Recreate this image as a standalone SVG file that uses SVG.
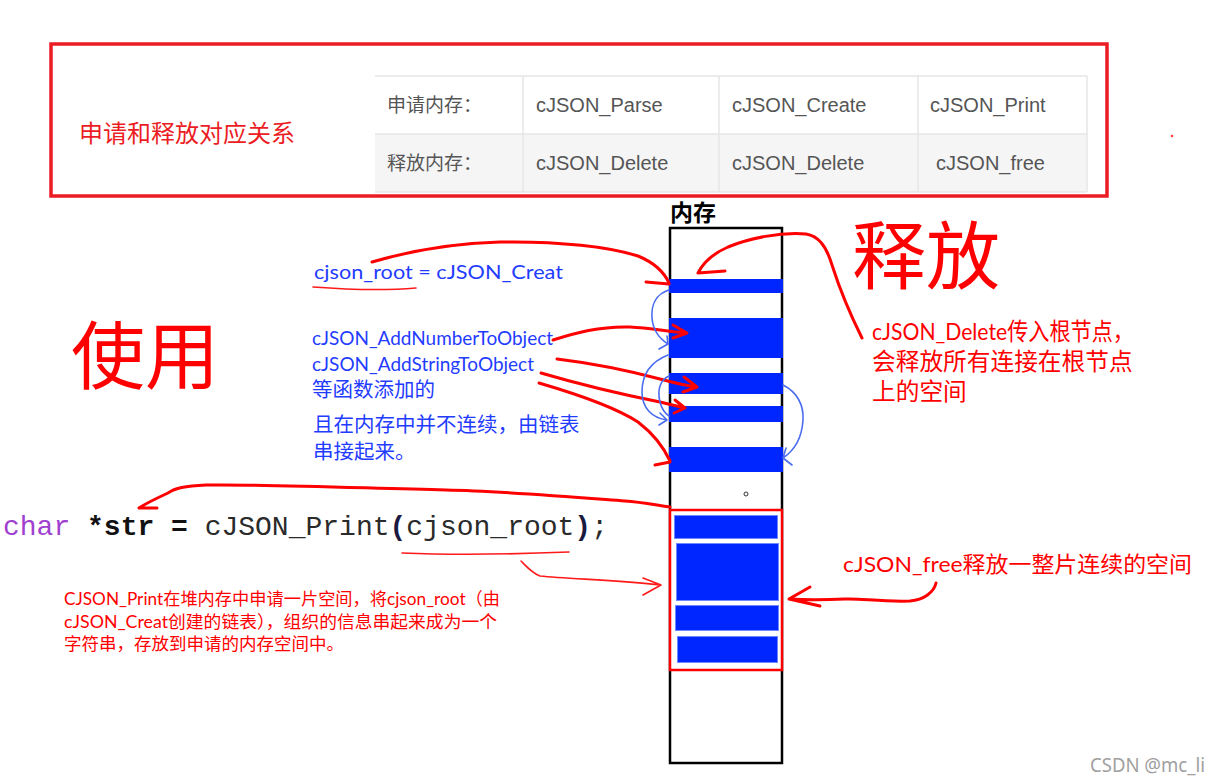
<svg xmlns="http://www.w3.org/2000/svg" width="1220" height="784" viewBox="0 0 1220 784">
<style>
.tbl{font-family:"Liberation Sans","Noto Sans CJK SC",sans-serif;font-size:20px;fill:#555}
.tcn{font-family:"Noto Sans CJK SC",sans-serif;font-size:19px;fill:#555}
.blue{font-family:Lato,"Noto Sans CJK SC",sans-serif;font-size:20px;fill:#1f3cff}
.bcn{font-family:Lato,"Noto Sans CJK SC",sans-serif;font-size:20.5px;fill:#1f3cff}
.red{font-family:Lato,"Noto Sans CJK SC",sans-serif;fill:#ff0000}
.big{font-family:"Noto Sans CJK SC",sans-serif;font-size:74px;fill:#ff0000}
.code{font-family:"Liberation Mono",monospace;font-size:28px;fill:#2a2a2a}
.pen{fill:none;stroke:#ff0000;stroke-width:3;stroke-linecap:round;stroke-linejoin:round}
.thin{fill:none;stroke:#ff1a1a;stroke-width:1.6;stroke-linecap:round;stroke-linejoin:round}
.bpen{fill:none;stroke:#4a6cf0;stroke-width:1.6;stroke-linecap:round;stroke-linejoin:round}
.bar{fill:#0026ff}
.ibar{fill:#0026ff;stroke:#7088ff;stroke-width:1}
.grid{stroke:#e6e6e6;stroke-width:1.5;fill:none}
</style>
<rect width="1220" height="784" fill="#fff"/>

<g id="table-box">
  <rect x="51" y="44" width="1056" height="152" fill="#fff" stroke="#ec1c24" stroke-width="3.5"/>
  <text x="79" y="142" font-family="Noto Sans CJK SC,sans-serif" font-size="24" fill="#ec1c24">申请和释放对应关系</text>
  <rect x="375" y="134" width="712" height="58" fill="#f5f5f5"/>
  <path class="grid" d="M375,76 H1087 M375,134 H1087 M375,192 H1087 M523,76 V192 M719,76 V192 M918,76 V192 M1087,76 V192"/>
  <text class="tcn" x="387" y="112">申请内存：</text>
  <text class="tbl" x="536" y="112">cJSON_Parse</text>
  <text class="tbl" x="732" y="112">cJSON_Create</text>
  <text class="tbl" x="930" y="112">cJSON_Print</text>
  <text class="tcn" x="387" y="170">释放内存：</text>
  <text class="tbl" x="536" y="170">cJSON_Delete</text>
  <text class="tbl" x="732" y="170">cJSON_Delete</text>
  <text class="tbl" x="936" y="170">cJSON_free</text>
</g>
<circle cx="1172" cy="136" r="1.3" fill="#f44"/>

<g id="memory">
  <text x="670" y="221" font-family="Noto Sans CJK SC,sans-serif" font-size="23" font-weight="bold" fill="#000">内存</text>
  <rect x="670" y="228" width="112" height="535" fill="#fff" stroke="#000" stroke-width="2.5"/>
  <rect class="bar" x="669" y="279" width="114" height="14"/>
  <rect class="bar" x="669" y="318" width="114" height="40"/>
  <rect class="bar" x="669" y="373" width="114" height="21"/>
  <rect class="bar" x="669" y="406" width="114" height="16"/>
  <rect class="bar" x="669" y="447" width="114" height="25"/>
  <circle cx="746" cy="494" r="2" fill="none" stroke="#333" stroke-width="1"/>
  <rect x="670" y="510" width="112" height="160" fill="#fff" stroke="#ff0000" stroke-width="2.5"/>
  <rect class="ibar" x="674.5" y="515.5" width="103" height="23"/>
  <rect class="ibar" x="676.5" y="543.5" width="102" height="57"/>
  <rect class="ibar" x="675.5" y="605.5" width="103" height="25"/>
  <rect class="ibar" x="677.5" y="636.5" width="100" height="26"/>
</g>

<g id="label-use">
  <text class="big" x="71" y="383">使用</text>
</g>
<g id="label-release">
  <text class="big" x="852" y="283">释放</text>
</g>

<g id="label-create">
  <text class="blue" x="314" y="279" textLength="249" lengthAdjust="spacingAndGlyphs">cjson_root = cJSON_Creat</text>
</g>
<g id="label-add">
  <text class="blue" x="312" y="345" textLength="241" lengthAdjust="spacingAndGlyphs">cJSON_AddNumberToObject</text>
  <text class="blue" x="312" y="371" textLength="222" lengthAdjust="spacingAndGlyphs">cJSON_AddStringToObject</text>
  <text class="bcn" x="312" y="397">等函数添加的</text>
  <text class="bcn" x="313" y="432">且在内存中并不连续，由链表</text>
  <text class="bcn" x="313" y="459">串接起来。</text>
</g>

<g id="label-delete">
  <text class="red" font-size="24" x="872" y="340" textLength="262" lengthAdjust="spacingAndGlyphs">cJSON_Delete传入根节点，</text>
  <text class="red" font-size="23.7" x="872" y="370">会释放所有连接在根节点</text>
  <text class="red" font-size="23.7" x="872" y="400">上的空间</text>
</g>

<g id="label-code">
  <text class="code" x="3" y="535"><tspan fill="#a040d0">char</tspan> <tspan font-weight="bold" fill="#111">*str =</tspan> cJSON_Print<tspan font-weight="bold" fill="#1a1a40">(</tspan>cjson_root<tspan font-weight="bold" fill="#1a1a40">)</tspan>;</text>
</g>

<g id="label-print">
  <text class="red" font-size="17.5" x="64" y="605" textLength="436" lengthAdjust="spacingAndGlyphs">CJSON_Print在堆内存中申请一片空间，将cjson_root（由</text>
  <text class="red" font-size="17.5" x="64" y="628" textLength="433" lengthAdjust="spacingAndGlyphs">cJSON_Creat创建的链表），组织的信息串起来成为一个</text>
  <text class="red" font-size="17.5" x="64" y="650">字符串，存放到申请的内存空间中。</text>
</g>

<g id="label-free">
  <text class="red" font-size="22" x="843" y="572" textLength="349" lengthAdjust="spacingAndGlyphs">cJSON_free释放一整片连续的空间</text>
</g>

<g id="connectors">
  <path class="pen" d="M372,262 C420,248 460,243 500,242 C560,241 610,247 638,256 C655,263 664,272 669,283 M646,282 L669,284"/>
  <path class="thin" d="M313,287 C340,289 380,291 416,288" stroke-width="2.2"/>
  <path class="pen" d="M862,338 C852,318 840,290 832,265 C826,245 818,236 806,234 C780,232 750,238 728,247 C712,254 703,263 698,273 M698,273 L725,271"/>
  <path class="pen" d="M553,340 C575,333 600,326 630,327 C650,328 665,331 687,333 M673,325 L687,333 L673,338"/>
  <path class="pen" d="M557,359 C590,363 630,371 660,379 C675,383 688,386 697,387 M684,377 L697,387 L683,392"/>
  <path class="pen" d="M541,373 C575,383 620,394 660,402 L685,408 M675,400 L685,408 L674,413"/>
  <path class="pen" d="M539,383 C580,395 615,407 638,422 C655,435 664,448 670,461 M655,465 L670,462"/>
  <path class="bpen" d="M669,290 C656,294 651,305 652,318 C653,330 660,339 668,344 M659,349 L668,344 L667,336"/>
  <path class="bpen" d="M668,355 C650,362 642,375 642,392 C642,408 652,418 667,420 M660,413 L667,420 L659,425"/>
  <path class="bpen" d="M669,376 C660,380 657,390 660,402 C662,410 666,414 669,416"/>
  <path class="bpen" d="M783,385 C797,392 804,405 803,420 C802,437 795,450 783,458 M786,448 L783,458 L792,465"/>
  <path class="pen" d="M670,507 C650,504 640,502 625,501 C560,496 500,491 446,490 C360,488 260,484 206,485 C185,486 175,488 168,493 C155,499 145,504 139,508 M139,508 L157,508"/>
  <path class="thin" d="M402,553 C450,555 520,554 569,552"/>
  <path class="thin" d="M521,561 C527,567 532,573 540,576 C570,579 620,580 661,585 M643,578 L661,585 L643,595"/>
  <path class="pen" d="M936,583 C934,592 924,600 910,601 C880,602 860,598 845,599 C825,600 805,600 789,599 M810,587 L789,599 L820,606"/>
</g>

<text x="1090" y="772" font-family="Noto Sans,sans-serif" font-size="19" fill="#a0a0a0" textLength="115" lengthAdjust="spacingAndGlyphs">CSDN @mc_li</text>
</svg>
